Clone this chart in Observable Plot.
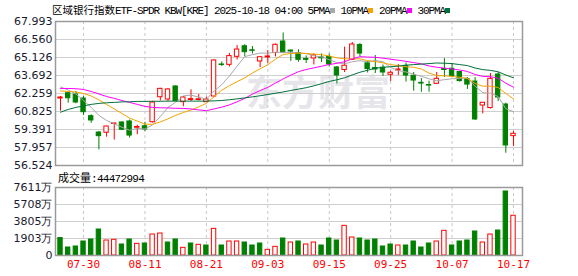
<!DOCTYPE html>
<html><head><meta charset="utf-8">
<script src="https://cdn.jsdelivr.net/npm/d3@7"></script>
<script src="https://cdn.jsdelivr.net/npm/@observablehq/plot@0.6"></script>
<style>
body{margin:0;background:#fff;}
#wrap{position:relative;width:578px;height:276px;overflow:hidden;background:#fff;}
#wrap > *{position:absolute;}
#wrap svg{z-index:1;}
.title{left:52px;top:1px;line-height:15px;white-space:nowrap;color:#000;z-index:2;}
.cjk{font-family:"Noto Sans CJK SC";font-size:10.5px;}
.mono{font-family:"Liberation Mono";font-size:11px;letter-spacing:-1.1px;}
.sq{display:inline-block;width:5px;height:5px;margin-right:0.5px;vertical-align:1px;}
.vlab{left:58px;top:170px;line-height:14px;white-space:nowrap;color:#000;z-index:2;}
.vlab .mono{letter-spacing:-0.7px;}
.wm{left:246px;top:70px;font-family:"Noto Sans CJK SC";font-weight:700;font-size:36px;line-height:40px;color:#e6e6ea;z-index:0;white-space:nowrap;}
</style></head>
<body><div id="wrap"></div>
<script>
const dates = ["07-25","07-28","07-29","07-30","07-31","08-01","08-04","08-05","08-06","08-07","08-08","08-11","08-12","08-13","08-14","08-15","08-18","08-19","08-20","08-21","08-22","08-25","08-26","08-27","08-28","08-29","09-02","09-03","09-04","09-05","09-08","09-09","09-10","09-11","09-12","09-15","09-16","09-17","09-18","09-19","09-22","09-23","09-24","09-25","09-26","09-29","09-30","10-01","10-02","10-03","10-06","10-07","10-08","10-09","10-10","10-13","10-14","10-15","10-16","10-17"];
const open  = [61.86,62.28,62.18,61.86,60.45,59.15,59.13,59.83,59.95,60.03,59.53,59.65,59.97,61.96,61.78,62.82,61.57,61.74,61.74,61.57,62.02,64.57,64.54,65.18,66.02,65.70,64.81,65.13,65.48,66.40,65.68,65.48,65.01,65.05,65.13,65.17,64.33,64.13,64.93,66.12,64.66,64.29,64.31,63.75,64.09,64.46,63.67,63.11,62.93,63.03,64.21,64.23,63.97,63.41,63.21,61.30,61.10,63.77,61.38,58.86];
const high  = [62.02,62.34,62.42,62.02,60.56,59.23,59.65,59.89,60.00,60.15,59.73,59.97,61.64,62.67,62.66,62.86,62.02,62.55,62.18,61.98,64.94,64.77,65.44,66.08,66.14,66.00,65.20,65.68,66.20,67.08,65.72,65.74,65.25,65.41,65.41,65.41,64.41,65.95,66.32,66.24,64.81,65.29,64.53,64.05,64.57,64.69,63.93,63.45,63.24,63.93,65.05,64.65,64.03,63.53,63.53,61.54,63.85,63.93,61.49,59.23];
const low   = [60.85,61.49,61.44,60.51,59.89,57.77,58.78,58.55,59.31,58.71,58.97,59.23,59.91,61.66,61.62,61.62,61.20,61.62,61.66,61.54,61.98,64.41,64.37,64.93,65.17,65.40,64.33,64.65,65.17,65.48,64.81,64.75,64.65,64.53,64.73,64.37,63.02,63.93,64.89,65.17,63.89,63.85,63.61,63.21,63.69,63.17,62.44,62.36,62.36,63.01,63.53,63.53,63.16,62.58,60.11,60.63,61.02,61.62,57.50,58.04];
const close = [61.94,61.88,61.54,60.77,60.11,58.86,59.63,59.87,59.37,58.91,59.59,59.39,61.54,62.63,62.58,61.65,61.94,61.81,61.80,61.78,64.89,64.53,65.24,65.76,65.55,65.66,65.15,65.21,66.14,65.52,65.60,64.94,64.94,65.29,65.06,64.57,63.69,64.47,66.16,65.44,64.21,64.17,63.93,63.91,64.17,63.69,63.29,63.05,62.89,63.43,64.13,63.64,63.25,62.97,60.19,61.52,63.43,61.94,58.12,59.05];
const ma5  = [62.78,62.54,62.22,61.70,61.15,60.51,60.11,59.85,59.57,59.33,59.48,59.43,59.76,60.42,61.15,61.56,62.07,62.13,61.96,61.80,62.45,62.96,63.65,64.44,65.20,65.35,65.48,65.47,65.54,65.54,65.53,65.49,65.43,65.26,65.17,64.96,64.72,64.62,64.79,64.87,64.79,64.89,64.79,64.33,64.08,63.97,63.80,63.62,63.43,63.27,63.36,63.43,63.47,63.49,62.84,62.32,62.28,62.02,61.05,60.81];
const ma10 = [62.46,62.42,62.38,62.26,62.06,61.75,61.39,61.03,60.67,60.30,60.06,59.81,59.81,59.99,60.24,60.52,60.75,60.94,61.19,61.48,62.00,62.52,62.88,63.20,63.50,63.90,64.22,64.56,64.99,65.37,65.44,65.48,65.45,65.40,65.35,65.25,65.10,65.02,65.02,65.02,64.88,64.80,64.70,64.56,64.48,64.39,64.35,64.21,63.88,63.68,63.67,63.62,63.55,63.46,63.06,62.84,62.85,62.74,62.26,61.83];
const ma20 = [62.66,62.66,62.64,62.58,62.42,62.22,62.02,61.87,61.70,61.55,61.39,61.23,61.15,61.12,61.11,61.08,61.07,61.03,60.95,60.89,61.03,61.17,61.35,61.60,61.87,62.21,62.49,62.75,63.09,63.42,63.72,64.00,64.17,64.30,64.43,64.57,64.66,64.79,65.01,65.19,65.16,65.14,65.07,64.99,64.91,64.82,64.72,64.62,64.45,64.35,64.28,64.21,64.13,64.01,63.77,63.62,63.60,63.47,63.08,62.76];
const ma30 = [60.77,60.99,61.15,61.27,61.39,61.47,61.52,61.55,61.59,61.60,61.63,61.63,61.64,61.64,61.65,61.65,61.65,61.65,61.65,61.65,61.67,61.70,61.76,61.83,61.91,61.99,62.08,62.18,62.28,62.38,62.50,62.61,62.72,62.87,63.04,63.22,63.35,63.51,63.74,63.95,64.11,64.27,64.35,64.39,64.44,64.51,64.56,64.60,64.64,64.69,64.67,64.64,64.56,64.48,64.29,64.16,64.10,63.99,63.73,63.51];
const volume = [1950,895,1007,1567,1791,2910,1679,1757,1231,1791,1306,1343,2350,2462,1455,1791,858,1343,1194,1119,2985,1119,1567,1567,1455,1119,1343,634,970,1903,1455,1567,1231,1455,1119,1903,1679,3320,2015,1903,1679,1791,1007,1231,1119,1119,1567,895,1343,1567,2761,1119,1567,1679,2686,1455,2350,2798,7164,4447];
const volUp = [0,0,0,0,0,0,1,1,0,0,1,0,1,1,0,0,1,0,1,0,1,0,1,1,0,0,0,1,1,0,1,0,1,1,0,0,0,1,1,0,0,0,0,0,1,0,0,0,0,1,1,0,0,0,0,1,1,0,0,1];
const yTicks = [56.524,57.957,59.391,60.825,62.259,63.692,65.126,66.560,67.993];
const volTicks = [0,1903,3805,5708,7611];
const xTickDates = ["07-30","08-11","08-21","09-03","09-15","09-25","10-07","10-17"];
const maNames = ["5PMA","10PMA","20PMA","30PMA"];
const maKeys = ["ma5","ma10","ma20","ma30"];
const maColors = ["#a8a8a8","#f5a300","#ff00ff","#00703c"];
const titleName = "区域银行指数";
const titleCode = "ETF-SPDR KBW[KRE] 2025-10-18 04:00 ";
const volLabel = "成交量";
const latestVolume = 44472994;

const UP = "#ff0000", DN = "#008000";
const rows = dates.map((d, i) => ({date: d, open: open[i], high: high[i], low: low[i], close: close[i],
  ma5: ma5[i], ma10: ma10[i], ma20: ma20[i], ma30: ma30[i], vol: volume[i], vup: volUp[i] === 1}));

const xScale = {type: "band", domain: dates, paddingInner: 0.3, paddingOuter: 0.5615, align: 0.2684, axis: null};
const font = "DejaVu Sans";
const wrap = document.getElementById("wrap");

// watermark
const wm = document.createElement("div");
wm.className = "wm"; wm.textContent = "东方财富";
wrap.appendChild(wm);

const main = Plot.plot({
  width: 578, height: 170, marginTop: 21, marginBottom: 5, marginLeft: 55, marginRight: 56,
  style: {background: "transparent", fontFamily: font, fontSize: "11px", overflow: "visible"},
  x: xScale,
  y: {domain: [yTicks[0], yTicks[yTicks.length - 1]], axis: null},
  marks: [
    Plot.gridY(yTicks, {stroke: "#cfcfcf", strokeOpacity: 1}),
    Plot.gridX(xTickDates, {stroke: "#c8c8c8", strokeOpacity: 1, strokeDasharray: "3,3"}),
    Plot.ruleX(rows, {x: "date", y1: "low", y2: "high", stroke: d => d.close >= d.open ? UP : DN, strokeWidth: 1}),
    Plot.barY(rows, {x: "date", y1: "open", y2: "close", insetLeft: 0.5, insetRight: 0.5,
      fill: d => d.close >= d.open ? "#fff" : DN, stroke: d => d.close >= d.open ? UP : DN, strokeWidth: 1}),
    ...maKeys.map((k, j) => Plot.line(rows, {x: "date", y: k, stroke: maColors[j], strokeWidth: 1})),
    Plot.text(yTicks, {y: d => d, text: d => d.toFixed(3), frameAnchor: "left", textAnchor: "end", dx: -3,
      fill: "#1a1a2e", fontSize: 11, fontFamily: font}),
    Plot.frame({stroke: "#9a9a9a", strokeWidth: 1.5})
  ]
});
main.style.left = "0px"; main.style.top = "0px";
wrap.appendChild(main);

const vol = Plot.plot({
  width: 578, height: 106, marginTop: 17, marginBottom: 21, marginLeft: 55, marginRight: 56,
  style: {background: "transparent", fontFamily: font, fontSize: "11px", overflow: "visible"},
  x: xScale,
  y: {domain: [0, volTicks[volTicks.length - 1]], axis: null},
  marks: [
    Plot.gridY(volTicks, {stroke: "#cfcfcf", strokeOpacity: 1}),
    Plot.gridX(xTickDates, {stroke: "#c8c8c8", strokeOpacity: 1, strokeDasharray: "3,3"}),
    Plot.barY(rows, {x: "date", y: "vol", insetLeft: 0.5, insetRight: 0.5,
      fill: d => d.vup ? "#fff" : DN, stroke: d => d.vup ? UP : DN, strokeWidth: 1}),
    Plot.text(volTicks, {y: d => d, text: d => d === 0 ? "0" : d + "万", frameAnchor: "left", textAnchor: "end", dx: -3,
      fill: "#1a1a2e", fontSize: 11, fontFamily: font}),
    Plot.text(xTickDates, {x: d => d, text: d => d, frameAnchor: "bottom", lineAnchor: "top", dy: 5,
      fill: "#ff0000", fontSize: 11, fontFamily: "DejaVu Sans Mono"}),
    Plot.frame({stroke: "#9a9a9a", strokeWidth: 1.5})
  ]
});
vol.style.left = "0px"; vol.style.top = "170px";
wrap.appendChild(vol);

// title
const t = document.createElement("div");
t.className = "title";
let html = `<span class="cjk">${titleName}</span><span class="mono">${titleCode}</span>`;
maNames.forEach((n, j) => {
  html += `<span class="mono">${j ? " " : ""}${n}</span><span class="sq" style="background:${maColors[j]}"></span>`;
});
t.innerHTML = html;
wrap.appendChild(t);

const v = document.createElement("div");
v.className = "vlab";
v.innerHTML = `<span class="cjk" style="font-size:11px">${volLabel}</span><span class="mono">:${latestVolume}</span>`;
wrap.appendChild(v);
</script>
</body></html>
